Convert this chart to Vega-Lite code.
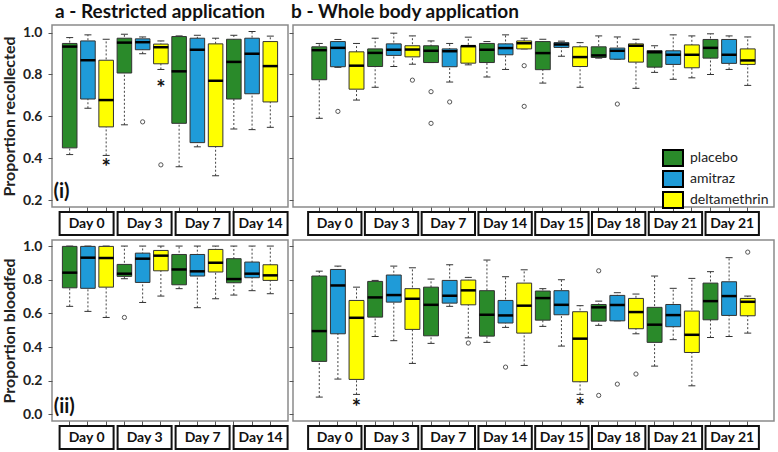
{
  "$schema": "https://vega.github.io/schema/vega-lite/v6.json",
  "background": "white",
  "padding": {"left": 0, "top": 2, "right": 0, "bottom": 0},
  "config": {
    "font": "Lato",
    "view": {"stroke": "#8a8a8a", "strokeWidth": 1.5},
    "axis": {"domain": false, "grid": false, "tickColor": "#555", "tickSize": 4, "tickWidth": 1, "labelFont": "Lato", "labelFontWeight": "bold", "labelFontSize": 14, "labelColor": "#222", "labelPadding": 6, "titleFont": "Lato", "titleFontWeight": "bold", "titleFontSize": 16, "titleColor": "#222", "titlePadding": 5},
    "title": {"font": "Lato", "fontSize": 19, "fontWeight": "bold", "color": "#111"}
  },
  "datasets": {
    "boxes": [
      {"p":"TL","b":"d0p","t":"placebo","lo":0.418,"q1":0.45,"md":0.933,"q3":0.948,"hi":0.976},
      {"p":"TL","b":"d0a","t":"amitraz","lo":0.639,"q1":0.683,"md":0.868,"q3":0.96,"hi":0.989},
      {"p":"TL","b":"d0d","t":"deltamethrin","lo":0.414,"q1":0.55,"md":0.678,"q3":0.868,"hi":0.968},
      {"p":"TL","b":"d3p","t":"placebo","lo":0.56,"q1":0.807,"md":0.952,"q3":0.973,"hi":0.992},
      {"p":"TL","b":"d3a","t":"amitraz","lo":0.899,"q1":0.918,"md":0.954,"q3":0.97,"hi":0.979},
      {"p":"TL","b":"d3d","t":"deltamethrin","lo":0.824,"q1":0.851,"md":0.93,"q3":0.945,"hi":0.96},
      {"p":"TL","b":"d7p","t":"placebo","lo":0.36,"q1":0.567,"md":0.815,"q3":0.981,"hi":0.984},
      {"p":"TL","b":"d7a","t":"amitraz","lo":0.455,"q1":0.475,"md":0.918,"q3":0.973,"hi":0.987},
      {"p":"TL","b":"d7d","t":"deltamethrin","lo":0.317,"q1":0.456,"md":0.77,"q3":0.946,"hi":0.973},
      {"p":"TL","b":"d14p","t":"placebo","lo":0.54,"q1":0.683,"md":0.86,"q3":0.968,"hi":0.987},
      {"p":"TL","b":"d14a","t":"amitraz","lo":0.537,"q1":0.708,"md":0.899,"q3":0.973,"hi":1.005},
      {"p":"TL","b":"d14d","t":"deltamethrin","lo":0.548,"q1":0.669,"md":0.84,"q3":0.957,"hi":0.983},
      {"p":"TR","b":"d0p","t":"placebo","lo":0.591,"q1":0.775,"md":0.916,"q3":0.932,"hi":0.948},
      {"p":"TR","b":"d0a","t":"amitraz","lo":0.834,"q1":0.837,"md":0.927,"q3":0.957,"hi":0.967},
      {"p":"TR","b":"d0d","t":"deltamethrin","lo":0.678,"q1":0.73,"md":0.842,"q3":0.908,"hi":0.948},
      {"p":"TR","b":"d3p","t":"placebo","lo":0.739,"q1":0.838,"md":0.903,"q3":0.922,"hi":0.973},
      {"p":"TR","b":"d3a","t":"amitraz","lo":0.838,"q1":0.891,"md":0.918,"q3":0.946,"hi":0.997},
      {"p":"TR","b":"d3d","t":"deltamethrin","lo":0.849,"q1":0.884,"md":0.919,"q3":0.937,"hi":0.984},
      {"p":"TR","b":"d7p","t":"placebo","lo":0.857,"q1":0.857,"md":0.913,"q3":0.937,"hi":0.96},
      {"p":"TR","b":"d7a","t":"amitraz","lo":0.764,"q1":0.837,"md":0.911,"q3":0.922,"hi":0.948},
      {"p":"TR","b":"d7d","t":"deltamethrin","lo":0.846,"q1":0.854,"md":0.935,"q3":0.935,"hi":0.978},
      {"p":"TR","b":"d14p","t":"placebo","lo":0.788,"q1":0.857,"md":0.918,"q3":0.948,"hi":0.957},
      {"p":"TR","b":"d14a","t":"amitraz","lo":0.824,"q1":0.894,"md":0.926,"q3":0.946,"hi":0.989},
      {"p":"TR","b":"d14d","t":"deltamethrin","lo":0.922,"q1":0.922,"md":0.949,"q3":0.96,"hi":0.973},
      {"p":"TR","b":"d15p","t":"placebo","lo":0.759,"q1":0.823,"md":0.902,"q3":0.957,"hi":0.968},
      {"p":"TR","b":"d15a","t":"amitraz","lo":0.887,"q1":0.929,"md":0.943,"q3":0.952,"hi":0.959},
      {"p":"TR","b":"d15d","t":"deltamethrin","lo":0.739,"q1":0.838,"md":0.883,"q3":0.932,"hi":0.952},
      {"p":"TR","b":"d18p","t":"placebo","lo":0.878,"q1":0.881,"md":0.891,"q3":0.932,"hi":0.984},
      {"p":"TR","b":"d18a","t":"amitraz","lo":0.873,"q1":0.873,"md":0.913,"q3":0.926,"hi":0.979},
      {"p":"TR","b":"d18d","t":"deltamethrin","lo":0.734,"q1":0.859,"md":0.937,"q3":0.946,"hi":0.968},
      {"p":"TR","b":"d21p","t":"placebo","lo":0.81,"q1":0.835,"md":0.906,"q3":0.914,"hi":0.937},
      {"p":"TR","b":"d21a","t":"amitraz","lo":0.777,"q1":0.848,"md":0.894,"q3":0.913,"hi":0.989},
      {"p":"TR","b":"d21d","t":"deltamethrin","lo":0.784,"q1":0.832,"md":0.894,"q3":0.941,"hi":0.984},
      {"p":"TR","b":"d21bp","t":"placebo","lo":0.8,"q1":0.878,"md":0.927,"q3":0.967,"hi":0.994},
      {"p":"TR","b":"d21ba","t":"amitraz","lo":0.824,"q1":0.853,"md":0.894,"q3":0.967,"hi":0.984},
      {"p":"TR","b":"d21bd","t":"deltamethrin","lo":0.748,"q1":0.848,"md":0.867,"q3":0.922,"hi":0.979},
      {"p":"BL","b":"d0p","t":"placebo","lo":0.642,"q1":0.752,"md":0.842,"q3":0.998,"hi":1.0},
      {"p":"BL","b":"d0a","t":"amitraz","lo":0.612,"q1":0.749,"md":0.931,"q3":0.998,"hi":1.0},
      {"p":"BL","b":"d0d","t":"deltamethrin","lo":0.576,"q1":0.756,"md":0.929,"q3":0.998,"hi":1.0},
      {"p":"BL","b":"d3p","t":"placebo","lo":0.806,"q1":0.82,"md":0.836,"q3":0.891,"hi":1.0},
      {"p":"BL","b":"d3a","t":"amitraz","lo":0.665,"q1":0.784,"md":0.925,"q3":0.958,"hi":1.0},
      {"p":"BL","b":"d3d","t":"deltamethrin","lo":0.703,"q1":0.853,"md":0.943,"q3":0.974,"hi":1.0},
      {"p":"BL","b":"d7p","t":"placebo","lo":0.747,"q1":0.77,"md":0.861,"q3":0.95,"hi":1.0},
      {"p":"BL","b":"d7a","t":"amitraz","lo":0.634,"q1":0.822,"md":0.85,"q3":0.95,"hi":1.0},
      {"p":"BL","b":"d7d","t":"deltamethrin","lo":0.687,"q1":0.846,"md":0.901,"q3":0.98,"hi":1.0},
      {"p":"BL","b":"d14p","t":"placebo","lo":0.709,"q1":0.782,"md":0.804,"q3":0.925,"hi":1.0},
      {"p":"BL","b":"d14a","t":"amitraz","lo":0.735,"q1":0.812,"md":0.836,"q3":0.905,"hi":1.0},
      {"p":"BL","b":"d14d","t":"deltamethrin","lo":0.717,"q1":0.796,"md":0.826,"q3":0.889,"hi":1.0},
      {"p":"BR","b":"d0p","t":"placebo","lo":0.103,"q1":0.315,"md":0.495,"q3":0.822,"hi":0.851},
      {"p":"BR","b":"d0a","t":"amitraz","lo":0.21,"q1":0.479,"md":0.766,"q3":0.861,"hi":0.881},
      {"p":"BR","b":"d0d","t":"deltamethrin","lo":0.119,"q1":0.208,"md":0.574,"q3":0.677,"hi":0.756},
      {"p":"BR","b":"d3p","t":"placebo","lo":0.463,"q1":0.578,"md":0.695,"q3":0.79,"hi":0.796},
      {"p":"BR","b":"d3a","t":"amitraz","lo":0.438,"q1":0.667,"md":0.709,"q3":0.828,"hi":0.881},
      {"p":"BR","b":"d3d","t":"deltamethrin","lo":0.303,"q1":0.505,"md":0.687,"q3":0.747,"hi":0.871},
      {"p":"BR","b":"d7p","t":"placebo","lo":0.422,"q1":0.467,"md":0.651,"q3":0.756,"hi":0.804},
      {"p":"BR","b":"d7a","t":"amitraz","lo":0.642,"q1":0.661,"md":0.705,"q3":0.796,"hi":0.889},
      {"p":"BR","b":"d7d","t":"deltamethrin","lo":0.455,"q1":0.651,"md":0.737,"q3":0.798,"hi":0.814},
      {"p":"BR","b":"d14p","t":"placebo","lo":0.428,"q1":0.465,"md":0.592,"q3":0.735,"hi":0.917},
      {"p":"BR","b":"d14a","t":"amitraz","lo":0.517,"q1":0.543,"md":0.588,"q3":0.677,"hi":0.818},
      {"p":"BR","b":"d14d","t":"deltamethrin","lo":0.291,"q1":0.483,"md":0.646,"q3":0.78,"hi":0.859},
      {"p":"BR","b":"d15p","t":"placebo","lo":0.523,"q1":0.56,"md":0.691,"q3":0.733,"hi":0.747},
      {"p":"BR","b":"d15a","t":"amitraz","lo":0.406,"q1":0.592,"md":0.651,"q3":0.735,"hi":0.8},
      {"p":"BR","b":"d15d","t":"deltamethrin","lo":0.119,"q1":0.194,"md":0.45,"q3":0.61,"hi":0.646},
      {"p":"BR","b":"d18p","t":"placebo","lo":0.529,"q1":0.554,"md":0.636,"q3":0.653,"hi":0.673},
      {"p":"BR","b":"d18a","t":"amitraz","lo":0.556,"q1":0.556,"md":0.65,"q3":0.707,"hi":0.723},
      {"p":"BR","b":"d18d","t":"deltamethrin","lo":0.479,"q1":0.509,"md":0.608,"q3":0.689,"hi":0.715},
      {"p":"BR","b":"d21p","t":"placebo","lo":0.287,"q1":0.428,"md":0.533,"q3":0.636,"hi":0.822},
      {"p":"BR","b":"d21a","t":"amitraz","lo":0.444,"q1":0.521,"md":0.59,"q3":0.653,"hi":0.749},
      {"p":"BR","b":"d21d","t":"deltamethrin","lo":0.17,"q1":0.368,"md":0.473,"q3":0.614,"hi":0.808},
      {"p":"BR","b":"d21bp","t":"placebo","lo":0.457,"q1":0.562,"md":0.673,"q3":0.78,"hi":0.848},
      {"p":"BR","b":"d21ba","t":"amitraz","lo":0.463,"q1":0.588,"md":0.703,"q3":0.788,"hi":0.931},
      {"p":"BR","b":"d21bd","t":"deltamethrin","lo":0.483,"q1":0.586,"md":0.669,"q3":0.689,"hi":0.703}
    ],
    "outliers": [
      {"p":"TL","b":"d3a","v":0.574},
      {"p":"TL","b":"d3d","v":0.369},
      {"p":"TR","b":"d0a","v":0.624},
      {"p":"TR","b":"d3d","v":0.773},
      {"p":"TR","b":"d7p","v":0.718},
      {"p":"TR","b":"d7p","v":0.567},
      {"p":"TR","b":"d7a","v":0.669},
      {"p":"TR","b":"d14d","v":0.842},
      {"p":"TR","b":"d14d","v":0.648},
      {"p":"TR","b":"d18a","v":0.659},
      {"p":"BL","b":"d3p","v":0.576},
      {"p":"BR","b":"d7d","v":0.424},
      {"p":"BR","b":"d14a","v":0.281},
      {"p":"BR","b":"d18p","v":0.853},
      {"p":"BR","b":"d18p","v":0.113},
      {"p":"BR","b":"d18a","v":0.18},
      {"p":"BR","b":"d18d","v":0.24},
      {"p":"BR","b":"d21bd","v":0.964}
    ],
    "stars": [
      {"p":"TL","b":"d0d","v":0.371},
      {"p":"TL","b":"d3d","v":0.75},
      {"p":"BR","b":"d0d","v":0.06},
      {"p":"BR","b":"d15d","v":0.07}
    ],
    "tags": [
      {"p":"TL","b":"d0p","v":0.239,"s":"(i)"},
      {"p":"BL","b":"d0p","v":0.047,"s":"(ii)"}
    ],
    "strips": [
      {"p":"L","id":"d0","s":"Day 0"},
      {"p":"L","id":"d3","s":"Day 3"},
      {"p":"L","id":"d7","s":"Day 7"},
      {"p":"L","id":"d14","s":"Day 14"},
      {"p":"R","id":"d0","s":"Day 0"},
      {"p":"R","id":"d3","s":"Day 3"},
      {"p":"R","id":"d7","s":"Day 7"},
      {"p":"R","id":"d14","s":"Day 14"},
      {"p":"R","id":"d15","s":"Day 15"},
      {"p":"R","id":"d18","s":"Day 18"},
      {"p":"R","id":"d21","s":"Day 21"},
      {"p":"R","id":"d21b","s":"Day 21"}
    ]
  },
  "columns": 2,
  "align": "each",
  "bounds": "flush",
  "spacing": {"row": 5, "column": 5},
  "resolve": {"scale": {"fill": "independent"}, "legend": {"fill": "independent"}},
  "concat": [
    {
      "width": 236, "height": 182,
      "title": {"text": "a -  Restricted application", "anchor": "start", "frame": "group", "dx": 3, "offset": 3},
      "layer": [
        {
          "data": {"name": "boxes"},
          "transform": [{"filter": "datum.p === 'TL'"}],
          "layer": [
            {"mark": {"type": "rule", "strokeDash": [2, 2], "color": "#444", "strokeWidth": 1},
             "encoding": {
               "x": {"field": "b", "type": "nominal", "scale": {"domain": ["d0p","d0a","d0d","d3p","d3a","d3d","d7p","d7a","d7d","d14p","d14a","d14d"], "paddingInner": 0, "paddingOuter": 0.47}, "axis": {"labels": false, "title": null}},
               "y": {"field": "lo", "type": "quantitative", "scale": {"domain": [0.168, 1.036], "nice": false, "zero": false}, "axis": {"values": [0.2, 0.4, 0.6, 0.8, 1], "format": ".1f", "title": "Proportion recollected"}},
               "y2": {"field": "hi"}}},
            {"mark": {"type": "tick", "size": 7, "thickness": 1, "color": "#333", "opacity": 1},
             "encoding": {
               "x": {"field": "b", "type": "nominal", "scale": {"domain": ["d0p","d0a","d0d","d3p","d3a","d3d","d7p","d7a","d7d","d14p","d14a","d14d"], "paddingInner": 0, "paddingOuter": 0.47}, "axis": {"labels": false, "title": null}},
               "y": {"field": "lo", "type": "quantitative", "scale": {"domain": [0.168, 1.036], "nice": false, "zero": false}, "axis": {"values": [0.2, 0.4, 0.6, 0.8, 1], "format": ".1f", "title": "Proportion recollected"}}}},
            {"mark": {"type": "tick", "size": 7, "thickness": 1, "color": "#333", "opacity": 1},
             "encoding": {
               "x": {"field": "b", "type": "nominal", "scale": {"domain": ["d0p","d0a","d0d","d3p","d3a","d3d","d7p","d7a","d7d","d14p","d14a","d14d"], "paddingInner": 0, "paddingOuter": 0.47}, "axis": {"labels": false, "title": null}},
               "y": {"field": "hi", "type": "quantitative", "scale": {"domain": [0.168, 1.036], "nice": false, "zero": false}, "axis": {"values": [0.2, 0.4, 0.6, 0.8, 1], "format": ".1f", "title": "Proportion recollected"}}}},
            {"mark": {"type": "bar", "width": {"band": 0.8}, "stroke": "#333", "strokeWidth": 1, "opacity": 1},
             "encoding": {
               "x": {"field": "b", "type": "nominal", "scale": {"domain": ["d0p","d0a","d0d","d3p","d3a","d3d","d7p","d7a","d7d","d14p","d14a","d14d"], "paddingInner": 0, "paddingOuter": 0.47}, "axis": {"labels": false, "title": null}},
               "y": {"field": "q1", "type": "quantitative", "scale": {"domain": [0.168, 1.036], "nice": false, "zero": false}, "axis": {"values": [0.2, 0.4, 0.6, 0.8, 1], "format": ".1f", "title": "Proportion recollected"}},
               "y2": {"field": "q3"},
               "fill": {"field": "t", "type": "nominal", "scale": {"domain": ["placebo", "amitraz", "deltamethrin"], "range": ["#2a8a2a", "#1f9bd8", "#ffff00"]}, "legend": null}}},
            {"mark": {"type": "tick", "size": 15, "thickness": 2.5, "color": "#000", "opacity": 1},
             "encoding": {
               "x": {"field": "b", "type": "nominal", "scale": {"domain": ["d0p","d0a","d0d","d3p","d3a","d3d","d7p","d7a","d7d","d14p","d14a","d14d"], "paddingInner": 0, "paddingOuter": 0.47}, "axis": {"labels": false, "title": null}},
               "y": {"field": "md", "type": "quantitative", "scale": {"domain": [0.168, 1.036], "nice": false, "zero": false}, "axis": {"values": [0.2, 0.4, 0.6, 0.8, 1], "format": ".1f", "title": "Proportion recollected"}}}}
          ]
        },
        {
          "data": {"name": "outliers"},
          "transform": [{"filter": "datum.p === 'TL'"}],
          "mark": {"type": "point", "shape": "circle", "filled": false, "size": 18, "stroke": "#555", "strokeWidth": 1, "opacity": 1},
          "encoding": {
            "x": {"field": "b", "type": "nominal", "scale": {"domain": ["d0p","d0a","d0d","d3p","d3a","d3d","d7p","d7a","d7d","d14p","d14a","d14d"], "paddingInner": 0, "paddingOuter": 0.47}, "axis": {"labels": false, "title": null}},
            "y": {"field": "v", "type": "quantitative", "scale": {"domain": [0.168, 1.036], "nice": false, "zero": false}, "axis": {"values": [0.2, 0.4, 0.6, 0.8, 1], "format": ".1f", "title": "Proportion recollected"}}}
        },
        {
          "data": {"name": "stars"},
          "transform": [{"filter": "datum.p === 'TL'"}],
          "mark": {"type": "text", "text": "*", "font": "Lato", "fontWeight": "bold", "fontSize": 22, "color": "#111", "baseline": "middle", "dy": 4},
          "encoding": {
            "x": {"field": "b", "type": "nominal", "scale": {"domain": ["d0p","d0a","d0d","d3p","d3a","d3d","d7p","d7a","d7d","d14p","d14a","d14d"], "paddingInner": 0, "paddingOuter": 0.47}, "axis": {"labels": false, "title": null}},
            "y": {"field": "v", "type": "quantitative", "scale": {"domain": [0.168, 1.036], "nice": false, "zero": false}, "axis": {"values": [0.2, 0.4, 0.6, 0.8, 1], "format": ".1f", "title": "Proportion recollected"}}}
        },
        {
          "data": {"name": "tags"},
          "transform": [{"filter": "datum.p === 'TL'"}],
          "mark": {"type": "text", "font": "Lato", "fontWeight": "bold", "fontSize": 20, "color": "#111", "baseline": "middle", "align": "center"},
          "encoding": {
            "x": {"field": "b", "type": "nominal", "bandPosition": 0.05, "scale": {"domain": ["d0p","d0a","d0d","d3p","d3a","d3d","d7p","d7a","d7d","d14p","d14a","d14d"], "paddingInner": 0, "paddingOuter": 0.47}, "axis": {"labels": false, "title": null}},
            "y": {"field": "v", "type": "quantitative", "scale": {"domain": [0.168, 1.036], "nice": false, "zero": false}, "axis": {"values": [0.2, 0.4, 0.6, 0.8, 1], "format": ".1f", "title": "Proportion recollected"}},
            "text": {"field": "s"}}
        }
      ]
    },
    {
      "width": 481, "height": 182,
      "title": {"text": "b -  Whole body application", "anchor": "start", "frame": "group", "dx": -2, "offset": 3},
      "layer": [
        {
          "data": {"name": "boxes"},
          "transform": [{"filter": "datum.p === 'TR'"}],
          "layer": [
            {"mark": {"type": "rule", "strokeDash": [2, 2], "color": "#444", "strokeWidth": 1},
             "encoding": {
               "x": {"field": "b", "type": "nominal", "scale": {"domain": ["d0p","d0a","d0d","d3p","d3a","d3d","d7p","d7a","d7d","d14p","d14a","d14d","d15p","d15a","d15d","d18p","d18a","d18d","d21p","d21a","d21d","d21bp","d21ba","d21bd"], "paddingInner": 0, "paddingOuter": 0.91}, "axis": {"labels": false, "title": null}},
               "y": {"field": "lo", "type": "quantitative", "scale": {"domain": [0.168, 1.036], "nice": false, "zero": false}, "axis": {"values": [0.2, 0.4, 0.6, 0.8, 1], "labels": false, "title": null}},
               "y2": {"field": "hi"}}},
            {"mark": {"type": "tick", "size": 7, "thickness": 1, "color": "#333", "opacity": 1},
             "encoding": {
               "x": {"field": "b", "type": "nominal", "scale": {"domain": ["d0p","d0a","d0d","d3p","d3a","d3d","d7p","d7a","d7d","d14p","d14a","d14d","d15p","d15a","d15d","d18p","d18a","d18d","d21p","d21a","d21d","d21bp","d21ba","d21bd"], "paddingInner": 0, "paddingOuter": 0.91}, "axis": {"labels": false, "title": null}},
               "y": {"field": "lo", "type": "quantitative", "scale": {"domain": [0.168, 1.036], "nice": false, "zero": false}, "axis": {"values": [0.2, 0.4, 0.6, 0.8, 1], "labels": false, "title": null}}}},
            {"mark": {"type": "tick", "size": 7, "thickness": 1, "color": "#333", "opacity": 1},
             "encoding": {
               "x": {"field": "b", "type": "nominal", "scale": {"domain": ["d0p","d0a","d0d","d3p","d3a","d3d","d7p","d7a","d7d","d14p","d14a","d14d","d15p","d15a","d15d","d18p","d18a","d18d","d21p","d21a","d21d","d21bp","d21ba","d21bd"], "paddingInner": 0, "paddingOuter": 0.91}, "axis": {"labels": false, "title": null}},
               "y": {"field": "hi", "type": "quantitative", "scale": {"domain": [0.168, 1.036], "nice": false, "zero": false}, "axis": {"values": [0.2, 0.4, 0.6, 0.8, 1], "labels": false, "title": null}}}},
            {"mark": {"type": "bar", "width": {"band": 0.8}, "stroke": "#333", "strokeWidth": 1, "opacity": 1},
             "encoding": {
               "x": {"field": "b", "type": "nominal", "scale": {"domain": ["d0p","d0a","d0d","d3p","d3a","d3d","d7p","d7a","d7d","d14p","d14a","d14d","d15p","d15a","d15d","d18p","d18a","d18d","d21p","d21a","d21d","d21bp","d21ba","d21bd"], "paddingInner": 0, "paddingOuter": 0.91}, "axis": {"labels": false, "title": null}},
               "y": {"field": "q1", "type": "quantitative", "scale": {"domain": [0.168, 1.036], "nice": false, "zero": false}, "axis": {"values": [0.2, 0.4, 0.6, 0.8, 1], "labels": false, "title": null}},
               "y2": {"field": "q3"},
               "fill": {"field": "t", "type": "nominal", "scale": {"domain": ["placebo", "amitraz", "deltamethrin"], "range": ["#2a8a2a", "#1f9bd8", "#ffff00"]},
                 "legend": {"orient": "none", "legendX": 371, "legendY": 124, "title": null, "padding": 0, "labelFont": "Lato", "labelFontSize": 14, "labelColor": "#222", "labelOffset": 8, "rowPadding": -6, "symbolType": "M-1.25,-1H1.25V1H-1.25Z", "symbolSize": 256, "symbolStrokeColor": "#000", "symbolStrokeWidth": 2,
                   "encode": {"symbols": {"update": {"fill": {"signal": "datum.value === 'placebo' ? '#4fa64f' : datum.value === 'amitraz' ? '#6e99cf' : '#ffff00'"}, "opacity": {"value": 1}, "stroke": {"value": "#000"}}}}}}}},
            {"mark": {"type": "tick", "size": 15, "thickness": 2.5, "color": "#000", "opacity": 1},
             "encoding": {
               "x": {"field": "b", "type": "nominal", "scale": {"domain": ["d0p","d0a","d0d","d3p","d3a","d3d","d7p","d7a","d7d","d14p","d14a","d14d","d15p","d15a","d15d","d18p","d18a","d18d","d21p","d21a","d21d","d21bp","d21ba","d21bd"], "paddingInner": 0, "paddingOuter": 0.91}, "axis": {"labels": false, "title": null}},
               "y": {"field": "md", "type": "quantitative", "scale": {"domain": [0.168, 1.036], "nice": false, "zero": false}, "axis": {"values": [0.2, 0.4, 0.6, 0.8, 1], "labels": false, "title": null}}}}
          ]
        },
        {
          "data": {"name": "outliers"},
          "transform": [{"filter": "datum.p === 'TR'"}],
          "mark": {"type": "point", "shape": "circle", "filled": false, "size": 18, "stroke": "#555", "strokeWidth": 1, "opacity": 1},
          "encoding": {
            "x": {"field": "b", "type": "nominal", "scale": {"domain": ["d0p","d0a","d0d","d3p","d3a","d3d","d7p","d7a","d7d","d14p","d14a","d14d","d15p","d15a","d15d","d18p","d18a","d18d","d21p","d21a","d21d","d21bp","d21ba","d21bd"], "paddingInner": 0, "paddingOuter": 0.91}, "axis": {"labels": false, "title": null}},
            "y": {"field": "v", "type": "quantitative", "scale": {"domain": [0.168, 1.036], "nice": false, "zero": false}, "axis": {"values": [0.2, 0.4, 0.6, 0.8, 1], "labels": false, "title": null}}}
        }
      ]
    },
    {
      "width": 236, "height": 23,
      "view": {"stroke": null},
      "data": {"name": "strips"},
      "transform": [{"filter": "datum.p === 'L'"}],
      "encoding": {"x": {"field": "id", "type": "nominal", "scale": {"domain": ["d0", "d3", "d7", "d14"], "paddingInner": 0.069, "paddingOuter": 0.069, "align": 0.95}, "axis": null}},
      "layer": [
        {"mark": {"type": "rect", "fill": "white", "stroke": "#111", "strokeWidth": 2}},
        {"mark": {"type": "text", "font": "Lato", "fontWeight": "bold", "fontSize": 14, "color": "#111"}, "encoding": {"text": {"field": "s"}}}
      ]
    },
    {
      "width": 481, "height": 23,
      "view": {"stroke": null},
      "data": {"name": "strips"},
      "transform": [{"filter": "datum.p === 'R'"}],
      "encoding": {"x": {"field": "id", "type": "nominal", "scale": {"domain": ["d0", "d3", "d7", "d14", "d15", "d18", "d21", "d21b"], "paddingInner": 0.06, "paddingOuter": 0.266}, "axis": null}},
      "layer": [
        {"mark": {"type": "rect", "fill": "white", "stroke": "#111", "strokeWidth": 2}},
        {"mark": {"type": "text", "font": "Lato", "fontWeight": "bold", "fontSize": 14, "color": "#111"}, "encoding": {"text": {"field": "s"}}}
      ]
    },
    {
      "width": 236, "height": 181,
      "layer": [
        {
          "data": {"name": "boxes"},
          "transform": [{"filter": "datum.p === 'BL'"}],
          "layer": [
            {"mark": {"type": "rule", "strokeDash": [2, 2], "color": "#444", "strokeWidth": 1},
             "encoding": {
               "x": {"field": "b", "type": "nominal", "scale": {"domain": ["d0p","d0a","d0d","d3p","d3a","d3d","d7p","d7a","d7d","d14p","d14a","d14d"], "paddingInner": 0, "paddingOuter": 0.47}, "axis": {"labels": false, "title": null}},
               "y": {"field": "lo", "type": "quantitative", "scale": {"domain": [-0.039, 1.036], "nice": false, "zero": false}, "axis": {"values": [0, 0.2, 0.4, 0.6, 0.8, 1], "format": ".1f", "title": "Proportion bloodfed"}},
               "y2": {"field": "hi"}}},
            {"mark": {"type": "tick", "size": 7, "thickness": 1, "color": "#333", "opacity": 1},
             "encoding": {
               "x": {"field": "b", "type": "nominal", "scale": {"domain": ["d0p","d0a","d0d","d3p","d3a","d3d","d7p","d7a","d7d","d14p","d14a","d14d"], "paddingInner": 0, "paddingOuter": 0.47}, "axis": {"labels": false, "title": null}},
               "y": {"field": "lo", "type": "quantitative", "scale": {"domain": [-0.039, 1.036], "nice": false, "zero": false}, "axis": {"values": [0, 0.2, 0.4, 0.6, 0.8, 1], "format": ".1f", "title": "Proportion bloodfed"}}}},
            {"mark": {"type": "tick", "size": 7, "thickness": 1, "color": "#333", "opacity": 1},
             "encoding": {
               "x": {"field": "b", "type": "nominal", "scale": {"domain": ["d0p","d0a","d0d","d3p","d3a","d3d","d7p","d7a","d7d","d14p","d14a","d14d"], "paddingInner": 0, "paddingOuter": 0.47}, "axis": {"labels": false, "title": null}},
               "y": {"field": "hi", "type": "quantitative", "scale": {"domain": [-0.039, 1.036], "nice": false, "zero": false}, "axis": {"values": [0, 0.2, 0.4, 0.6, 0.8, 1], "format": ".1f", "title": "Proportion bloodfed"}}}},
            {"mark": {"type": "bar", "width": {"band": 0.8}, "stroke": "#333", "strokeWidth": 1, "opacity": 1},
             "encoding": {
               "x": {"field": "b", "type": "nominal", "scale": {"domain": ["d0p","d0a","d0d","d3p","d3a","d3d","d7p","d7a","d7d","d14p","d14a","d14d"], "paddingInner": 0, "paddingOuter": 0.47}, "axis": {"labels": false, "title": null}},
               "y": {"field": "q1", "type": "quantitative", "scale": {"domain": [-0.039, 1.036], "nice": false, "zero": false}, "axis": {"values": [0, 0.2, 0.4, 0.6, 0.8, 1], "format": ".1f", "title": "Proportion bloodfed"}},
               "y2": {"field": "q3"},
               "fill": {"field": "t", "type": "nominal", "scale": {"domain": ["placebo", "amitraz", "deltamethrin"], "range": ["#2a8a2a", "#1f9bd8", "#ffff00"]}, "legend": null}}},
            {"mark": {"type": "tick", "size": 15, "thickness": 2.5, "color": "#000", "opacity": 1},
             "encoding": {
               "x": {"field": "b", "type": "nominal", "scale": {"domain": ["d0p","d0a","d0d","d3p","d3a","d3d","d7p","d7a","d7d","d14p","d14a","d14d"], "paddingInner": 0, "paddingOuter": 0.47}, "axis": {"labels": false, "title": null}},
               "y": {"field": "md", "type": "quantitative", "scale": {"domain": [-0.039, 1.036], "nice": false, "zero": false}, "axis": {"values": [0, 0.2, 0.4, 0.6, 0.8, 1], "format": ".1f", "title": "Proportion bloodfed"}}}}
          ]
        },
        {
          "data": {"name": "outliers"},
          "transform": [{"filter": "datum.p === 'BL'"}],
          "mark": {"type": "point", "shape": "circle", "filled": false, "size": 18, "stroke": "#555", "strokeWidth": 1, "opacity": 1},
          "encoding": {
            "x": {"field": "b", "type": "nominal", "scale": {"domain": ["d0p","d0a","d0d","d3p","d3a","d3d","d7p","d7a","d7d","d14p","d14a","d14d"], "paddingInner": 0, "paddingOuter": 0.47}, "axis": {"labels": false, "title": null}},
            "y": {"field": "v", "type": "quantitative", "scale": {"domain": [-0.039, 1.036], "nice": false, "zero": false}, "axis": {"values": [0, 0.2, 0.4, 0.6, 0.8, 1], "format": ".1f", "title": "Proportion bloodfed"}}}
        },
        {
          "data": {"name": "tags"},
          "transform": [{"filter": "datum.p === 'BL'"}],
          "mark": {"type": "text", "font": "Lato", "fontWeight": "bold", "fontSize": 20, "color": "#111", "baseline": "middle", "align": "center"},
          "encoding": {
            "x": {"field": "b", "type": "nominal", "bandPosition": 0.2, "scale": {"domain": ["d0p","d0a","d0d","d3p","d3a","d3d","d7p","d7a","d7d","d14p","d14a","d14d"], "paddingInner": 0, "paddingOuter": 0.47}, "axis": {"labels": false, "title": null}},
            "y": {"field": "v", "type": "quantitative", "scale": {"domain": [-0.039, 1.036], "nice": false, "zero": false}, "axis": {"values": [0, 0.2, 0.4, 0.6, 0.8, 1], "format": ".1f", "title": "Proportion bloodfed"}},
            "text": {"field": "s"}}
        }
      ]
    },
    {
      "width": 481, "height": 181,
      "layer": [
        {
          "data": {"name": "boxes"},
          "transform": [{"filter": "datum.p === 'BR'"}],
          "layer": [
            {"mark": {"type": "rule", "strokeDash": [2, 2], "color": "#444", "strokeWidth": 1},
             "encoding": {
               "x": {"field": "b", "type": "nominal", "scale": {"domain": ["d0p","d0a","d0d","d3p","d3a","d3d","d7p","d7a","d7d","d14p","d14a","d14d","d15p","d15a","d15d","d18p","d18a","d18d","d21p","d21a","d21d","d21bp","d21ba","d21bd"], "paddingInner": 0, "paddingOuter": 0.91}, "axis": {"labels": false, "title": null}},
               "y": {"field": "lo", "type": "quantitative", "scale": {"domain": [-0.039, 1.036], "nice": false, "zero": false}, "axis": {"values": [0, 0.2, 0.4, 0.6, 0.8, 1], "labels": false, "title": null}},
               "y2": {"field": "hi"}}},
            {"mark": {"type": "tick", "size": 7, "thickness": 1, "color": "#333", "opacity": 1},
             "encoding": {
               "x": {"field": "b", "type": "nominal", "scale": {"domain": ["d0p","d0a","d0d","d3p","d3a","d3d","d7p","d7a","d7d","d14p","d14a","d14d","d15p","d15a","d15d","d18p","d18a","d18d","d21p","d21a","d21d","d21bp","d21ba","d21bd"], "paddingInner": 0, "paddingOuter": 0.91}, "axis": {"labels": false, "title": null}},
               "y": {"field": "lo", "type": "quantitative", "scale": {"domain": [-0.039, 1.036], "nice": false, "zero": false}, "axis": {"values": [0, 0.2, 0.4, 0.6, 0.8, 1], "labels": false, "title": null}}}},
            {"mark": {"type": "tick", "size": 7, "thickness": 1, "color": "#333", "opacity": 1},
             "encoding": {
               "x": {"field": "b", "type": "nominal", "scale": {"domain": ["d0p","d0a","d0d","d3p","d3a","d3d","d7p","d7a","d7d","d14p","d14a","d14d","d15p","d15a","d15d","d18p","d18a","d18d","d21p","d21a","d21d","d21bp","d21ba","d21bd"], "paddingInner": 0, "paddingOuter": 0.91}, "axis": {"labels": false, "title": null}},
               "y": {"field": "hi", "type": "quantitative", "scale": {"domain": [-0.039, 1.036], "nice": false, "zero": false}, "axis": {"values": [0, 0.2, 0.4, 0.6, 0.8, 1], "labels": false, "title": null}}}},
            {"mark": {"type": "bar", "width": {"band": 0.8}, "stroke": "#333", "strokeWidth": 1, "opacity": 1},
             "encoding": {
               "x": {"field": "b", "type": "nominal", "scale": {"domain": ["d0p","d0a","d0d","d3p","d3a","d3d","d7p","d7a","d7d","d14p","d14a","d14d","d15p","d15a","d15d","d18p","d18a","d18d","d21p","d21a","d21d","d21bp","d21ba","d21bd"], "paddingInner": 0, "paddingOuter": 0.91}, "axis": {"labels": false, "title": null}},
               "y": {"field": "q1", "type": "quantitative", "scale": {"domain": [-0.039, 1.036], "nice": false, "zero": false}, "axis": {"values": [0, 0.2, 0.4, 0.6, 0.8, 1], "labels": false, "title": null}},
               "y2": {"field": "q3"},
               "fill": {"field": "t", "type": "nominal", "scale": {"domain": ["placebo", "amitraz", "deltamethrin"], "range": ["#2a8a2a", "#1f9bd8", "#ffff00"]}, "legend": null}}},
            {"mark": {"type": "tick", "size": 15, "thickness": 2.5, "color": "#000", "opacity": 1},
             "encoding": {
               "x": {"field": "b", "type": "nominal", "scale": {"domain": ["d0p","d0a","d0d","d3p","d3a","d3d","d7p","d7a","d7d","d14p","d14a","d14d","d15p","d15a","d15d","d18p","d18a","d18d","d21p","d21a","d21d","d21bp","d21ba","d21bd"], "paddingInner": 0, "paddingOuter": 0.91}, "axis": {"labels": false, "title": null}},
               "y": {"field": "md", "type": "quantitative", "scale": {"domain": [-0.039, 1.036], "nice": false, "zero": false}, "axis": {"values": [0, 0.2, 0.4, 0.6, 0.8, 1], "labels": false, "title": null}}}}
          ]
        },
        {
          "data": {"name": "outliers"},
          "transform": [{"filter": "datum.p === 'BR'"}],
          "mark": {"type": "point", "shape": "circle", "filled": false, "size": 18, "stroke": "#555", "strokeWidth": 1, "opacity": 1},
          "encoding": {
            "x": {"field": "b", "type": "nominal", "scale": {"domain": ["d0p","d0a","d0d","d3p","d3a","d3d","d7p","d7a","d7d","d14p","d14a","d14d","d15p","d15a","d15d","d18p","d18a","d18d","d21p","d21a","d21d","d21bp","d21ba","d21bd"], "paddingInner": 0, "paddingOuter": 0.91}, "axis": {"labels": false, "title": null}},
            "y": {"field": "v", "type": "quantitative", "scale": {"domain": [-0.039, 1.036], "nice": false, "zero": false}, "axis": {"values": [0, 0.2, 0.4, 0.6, 0.8, 1], "labels": false, "title": null}}}
        },
        {
          "data": {"name": "stars"},
          "transform": [{"filter": "datum.p === 'BR'"}],
          "mark": {"type": "text", "text": "*", "font": "Lato", "fontWeight": "bold", "fontSize": 22, "color": "#111", "baseline": "middle", "dy": 4},
          "encoding": {
            "x": {"field": "b", "type": "nominal", "scale": {"domain": ["d0p","d0a","d0d","d3p","d3a","d3d","d7p","d7a","d7d","d14p","d14a","d14d","d15p","d15a","d15d","d18p","d18a","d18d","d21p","d21a","d21d","d21bp","d21ba","d21bd"], "paddingInner": 0, "paddingOuter": 0.91}, "axis": {"labels": false, "title": null}},
            "y": {"field": "v", "type": "quantitative", "scale": {"domain": [-0.039, 1.036], "nice": false, "zero": false}, "axis": {"values": [0, 0.2, 0.4, 0.6, 0.8, 1], "labels": false, "title": null}}}
        }
      ]
    },
    {
      "width": 236, "height": 23,
      "view": {"stroke": null},
      "data": {"name": "strips"},
      "transform": [{"filter": "datum.p === 'L'"}],
      "encoding": {"x": {"field": "id", "type": "nominal", "scale": {"domain": ["d0", "d3", "d7", "d14"], "paddingInner": 0.069, "paddingOuter": 0.069, "align": 0.95}, "axis": null}},
      "layer": [
        {"mark": {"type": "rect", "fill": "white", "stroke": "#111", "strokeWidth": 2}},
        {"mark": {"type": "text", "font": "Lato", "fontWeight": "bold", "fontSize": 14, "color": "#111"}, "encoding": {"text": {"field": "s"}}}
      ]
    },
    {
      "width": 481, "height": 23,
      "view": {"stroke": null},
      "data": {"name": "strips"},
      "transform": [{"filter": "datum.p === 'R'"}],
      "encoding": {"x": {"field": "id", "type": "nominal", "scale": {"domain": ["d0", "d3", "d7", "d14", "d15", "d18", "d21", "d21b"], "paddingInner": 0.06, "paddingOuter": 0.266}, "axis": null}},
      "layer": [
        {"mark": {"type": "rect", "fill": "white", "stroke": "#111", "strokeWidth": 2}},
        {"mark": {"type": "text", "font": "Lato", "fontWeight": "bold", "fontSize": 14, "color": "#111"}, "encoding": {"text": {"field": "s"}}}
      ]
    }
  ]
}
